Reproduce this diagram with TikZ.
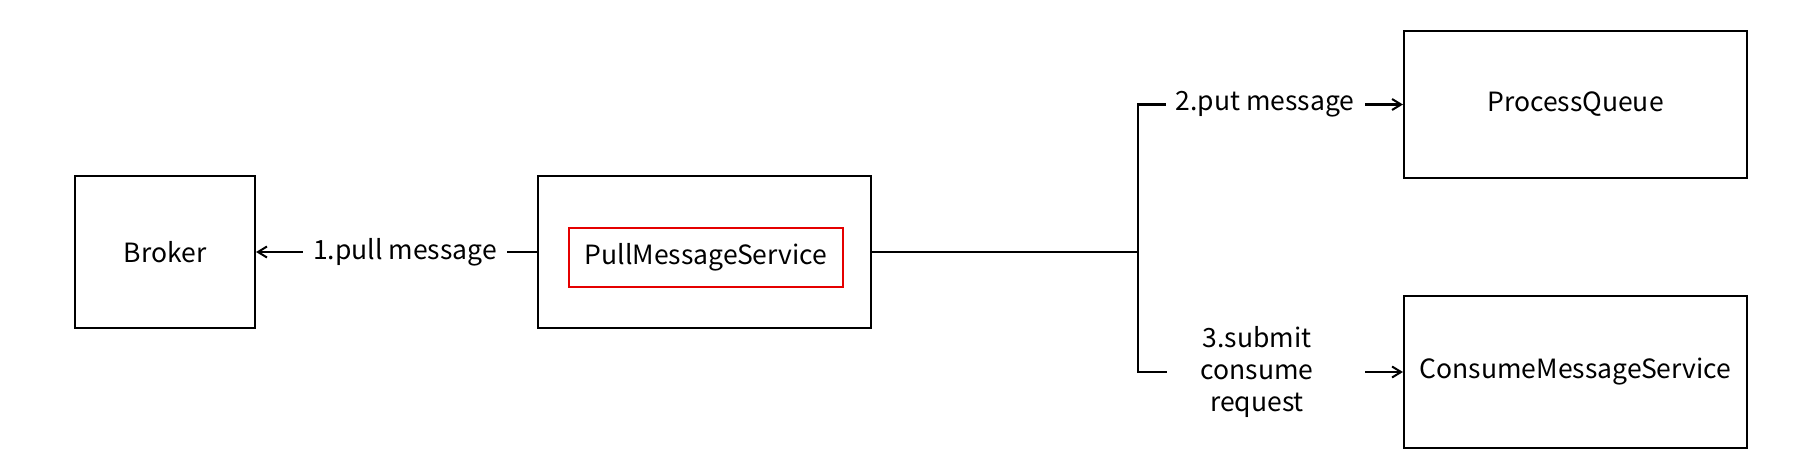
\documentclass[tikz,border=0pt]{standalone}
\usepackage{fontspec}
\setmainfont{Noto Sans CJK SC}
\usetikzlibrary{arrows.meta}
\begin{document}
\begin{tikzpicture}[x=1pt,y=-1pt,
  box/.style={draw=black,line width=2.1pt,minimum width=#1,inner sep=0pt,font=\fontsize{26.5}{32}\selectfont},
  redbox/.style={draw=red!90!black,line width=2.2pt,minimum width=274pt,minimum height=59pt,inner sep=0pt,font=\fontsize{26.5}{32}\selectfont},
  conn/.style={line width=2.1pt},
  arr/.style={line width=2.1pt,-{Straight Barb[length=9pt,width=11pt,line width=2pt]}},
  lbl/.style={fill=white,inner sep=10pt,font=\fontsize{26.5}{32}\selectfont,align=center},
  mask/.style={fill=white,inner sep=0pt,minimum width=#1,minimum height=10pt}]
\useasboundingbox (0,0) rectangle (1802,476);
\node[box=180pt,minimum height=152pt] (broker) at (165,252) {Broker};
\node[box=333pt,minimum height=152pt] (pull) at (704.5,252) {};
\node[redbox] (pulltxt) at (706,257.5) {PullMessageService};
\node[box=343pt,minimum height=147pt] (pq) at (1575.5,104.5) {ProcessQueue};
\node[box=343pt,minimum height=152pt] (cms) at (1575.5,372) {ConsumeMessageService};
\coordinate (j) at (1138,252);
\draw[arr] (pull.west) -- node[lbl,pos=0.47]{1.pull message} (broker.east);
\draw[conn] (pull.east) -- (j);
\draw[arr] (j) |- node[lbl,pos=0.74]{2.put message} (pq.west);
\draw[arr] (j) |- node[mask=198pt,pos=0.7407]{} (cms.west);
\node[lbl,fill=none,inner sep=0pt] (l3) at (1257,372) {3.submit\\consume\\request};
\end{tikzpicture}
\end{document}
